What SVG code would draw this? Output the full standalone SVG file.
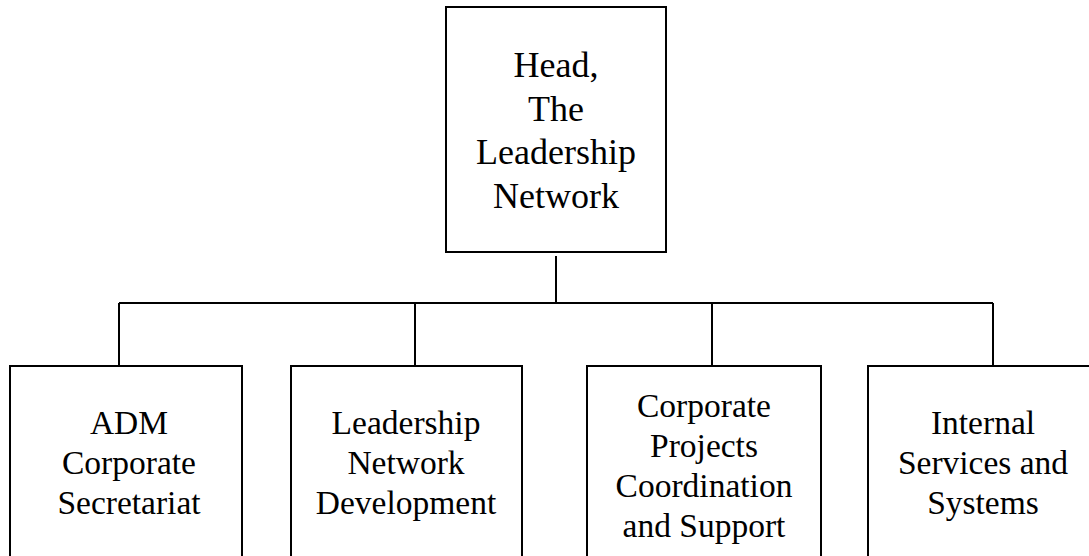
<svg xmlns="http://www.w3.org/2000/svg" width="1089" height="556" viewBox="0 0 1089 556">
  <style>
    .box { fill: #ffffff; stroke: #000000; stroke-width: 2; }
    .wire { fill: none; stroke: #000000; stroke-width: 2; }
    .lbl { font-family: "Liberation Serif", "Times New Roman", serif; fill: #000000; text-anchor: middle; }
    .top { font-size: 36px; }
    .sub { font-size: 33.5px; }
  </style>
  <rect width="1089" height="556" fill="#ffffff"/>

  <!-- connectors -->
  <g id="connectors">
    <path class="wire" d="M556 256 V303"/>
    <path class="wire" d="M119 303 H993"/>
    <path class="wire" d="M119 303 V366"/>
    <path class="wire" d="M415 303 V366"/>
    <path class="wire" d="M712 303 V366"/>
    <path class="wire" d="M993 303 V366"/>
  </g>

  <!-- head -->
  <g id="head">
    <rect class="box" x="446" y="7" width="220" height="245"/>
    <text class="lbl top" x="556" y="77">Head,</text>
    <text class="lbl top" x="556" y="120.5">The</text>
    <text class="lbl top" x="556" y="164">Leadership</text>
    <text class="lbl top" x="556" y="207.5">Network</text>
  </g>

  <!-- units -->
  <g id="adm-secretariat">
    <rect class="box" x="10" y="366" width="232" height="210"/>
    <text class="lbl sub" x="129" y="434">ADM</text>
    <text class="lbl sub" x="129" y="474">Corporate</text>
    <text class="lbl sub" x="129" y="514">Secretariat</text>
  </g>

  <g id="network-development">
    <rect class="box" x="291" y="366" width="231" height="210"/>
    <text class="lbl sub" x="406" y="434">Leadership</text>
    <text class="lbl sub" x="406" y="474">Network</text>
    <text class="lbl sub" x="406" y="514">Development</text>
  </g>

  <g id="projects-coordination">
    <rect class="box" x="587" y="366" width="234" height="210"/>
    <text class="lbl sub" x="704" y="417">Corporate</text>
    <text class="lbl sub" x="704" y="457">Projects</text>
    <text class="lbl sub" x="704" y="497">Coordination</text>
    <text class="lbl sub" x="704" y="537">and Support</text>
  </g>

  <g id="internal-services">
    <rect class="box" x="868" y="366" width="230" height="210"/>
    <text class="lbl sub" x="983" y="434">Internal</text>
    <text class="lbl sub" x="983" y="474">Services and</text>
    <text class="lbl sub" x="983" y="514">Systems</text>
  </g>
</svg>
